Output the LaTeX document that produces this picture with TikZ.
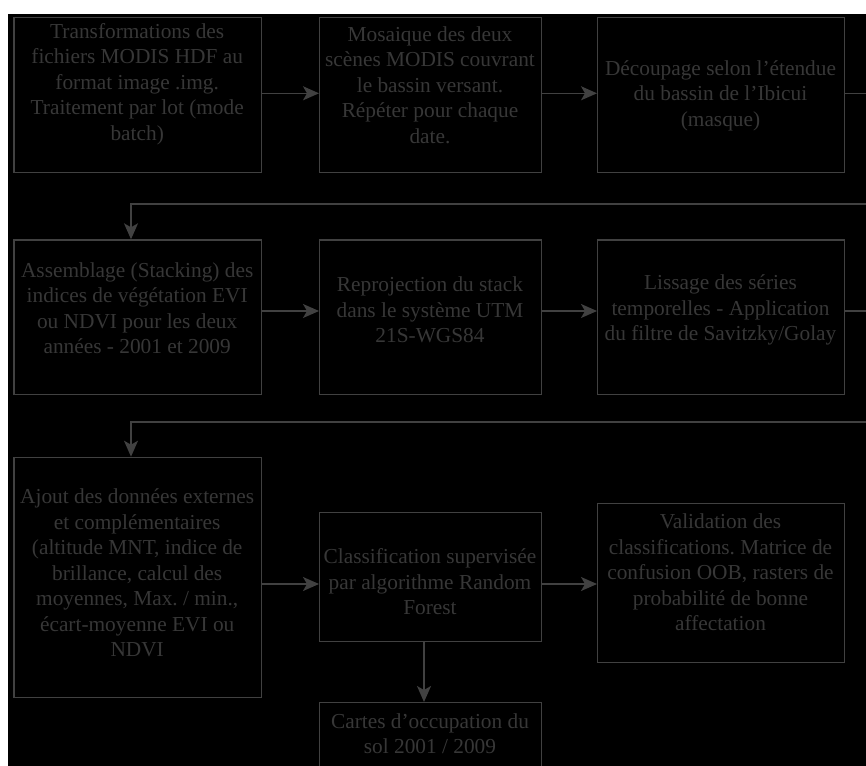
\documentclass[tikz,border=0pt]{standalone}
\usepackage{fontspec}
\setmainfont{Liberation Serif}
\frenchspacing
\usetikzlibrary{arrows.meta}
\newlength{\du}
\setlength{\du}{0.75pt}
\definecolor{linegray}{rgb}{0.255000, 0.255000, 0.255000}
\definecolor{textgray}{rgb}{0.215000, 0.215000, 0.215000}
\tikzset{
  procbox/.style={draw=linegray, line width=1.4\du, fill=black, inner sep=0pt, anchor=north west},
  proctext/.style={text=textgray, align=center, inner sep=0pt, font=\fontsize{16pt}{19.1pt}\selectfont},
  flow/.style={draw=linegray, line width=1.4\du, -{Stealth[length=12pt,width=10.5pt,inset=3pt]}},
}
\begin{document}
\begin{tikzpicture}
\pgftransformxscale{1.000000}
\pgftransformyscale{-1.000000}
\useasboundingbox (0\du,0\du) rectangle (866\du,766\du);
\fill[white] (0\du,0\du) rectangle (866\du,766\du);
\fill[black] (8\du,14\du) rectangle (866\du,766\du);
% row 1
\node[procbox, minimum width=247.7\du, minimum height=155\du] (b1) at (13.3\du,16.7\du) {};
\node[procbox, minimum width=222\du, minimum height=155\du] (b2) at (319\du,16.7\du) {};
\node[procbox, minimum width=247\du, minimum height=155\du] (b3) at (597\du,16.7\du) {};
\node[proctext] (t1) at (137.2\du,84\du) {Transformations des\\fichiers MODIS HDF au\\format image .img.\\Traitement par lot (mode\\batch)};
\node[proctext] (t2) at (430\du,85\du) {Mosaique des deux\\scènes MODIS couvrant\\le bassin versant.\\Répéter pour chaque\\date.};
\node[proctext] (t3) at (720.5\du,95.5\du) {Découpage selon l’étendue\\du bassin de l’Ibicui\\(masque)};
% row 2
\node[procbox, minimum width=247.7\du, minimum height=154.7\du] (b4) at (13.3\du,239.3\du) {};
\node[procbox, minimum width=222\du, minimum height=154.7\du] (b5) at (319\du,239.3\du) {};
\node[procbox, minimum width=247\du, minimum height=154.7\du] (b6) at (597\du,239.3\du) {};
\node[proctext] (t4) at (137.2\du,308\du) {Assemblage (Stacking) des\\indices de végétation EVI\\ou NDVI pour les deux\\années - 2001 et 2009};
\node[proctext] (t5) at (430\du,310\du) {Reprojection du stack\\dans le système UTM\\21S-WGS84};
\node[proctext] (t6) at (720.5\du,310\du) {Lissage des séries\\temporelles - Application\\du filtre de Savitzky/Golay};
% row 3
\node[procbox, minimum width=247.7\du, minimum height=240\du] (b7) at (13.3\du,456.7\du) {};
\node[procbox, minimum width=222\du, minimum height=129\du] (b8) at (319\du,512\du) {};
\node[procbox, minimum width=247\du, minimum height=159\du] (b9) at (597\du,503\du) {};
\node[procbox, minimum width=222\du, minimum height=66\du] (b10) at (319\du,702\du) {};
\node[proctext] (t7) at (137.2\du,573\du) {Ajout des données externes\\et complémentaires\\(altitude MNT, indice de\\brillance, calcul des\\moyennes, Max. / min.,\\écart-moyenne EVI ou\\NDVI};
\node[proctext] (t8) at (430\du,582\du) {Classification supervisée\\par algorithme Random\\Forest};
\node[proctext] (t9) at (720.5\du,572.5\du) {Validation des\\classifications. Matrice de\\confusion OOB, rasters de\\probabilité de bonne\\affectation};
\node[proctext] (t10) at (430\du,733.5\du) {Cartes d’occupation du\\sol 2001 / 2009};
% connectors
\coordinate (r1) at (0\du,93.3\du);
\coordinate (r2) at (0\du,311\du);
\coordinate (r3) at (0\du,584\du);
\coordinate (k1) at (880\du,204\du);
\coordinate (k1b) at (131\du,204\du);
\coordinate (k2) at (880\du,422\du);
\coordinate (k2b) at (131\du,422\du);
\coordinate (c10) at (424\du,0\du);
\draw[flow] (b1.east |- r1) -- (b2.west |- r1);
\draw[flow] (b2.east |- r1) -- (b3.west |- r1);
\draw[flow] (b3.east |- r1) -| (k1) -- (k1b) -- (k1b |- b4.north);
\draw[flow] (b4.east |- r2) -- (b5.west |- r2);
\draw[flow] (b5.east |- r2) -- (b6.west |- r2);
\draw[flow] (b6.east |- r2) -| (k2) -- (k2b) -- (k2b |- b7.north);
\draw[flow] (b7.east |- r3) -- (b8.west |- r3);
\draw[flow] (b8.east |- r3) -- (b9.west |- r3);
\draw[flow] (b8.south -| c10) -- (b10.north -| c10);
\end{tikzpicture}
\end{document}
